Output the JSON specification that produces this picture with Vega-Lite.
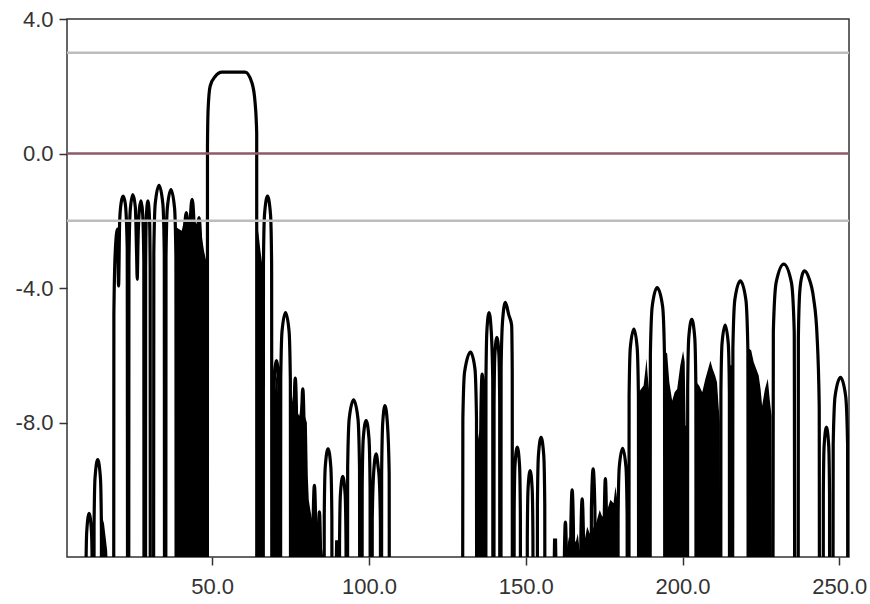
{
  "$schema": "https://vega.github.io/schema/vega-lite/v6.json",
  "width": 782,
  "height": 538,
  "autosize": {"type": "none"},
  "padding": {"left": 67, "top": 19, "right": 21, "bottom": 47},
  "background": "white",
  "config": {
    "view": {"stroke": "#333333", "strokeWidth": 1.5},
    "axis": {
      "labelFont": "Liberation Sans",
      "labelFontSize": 22,
      "labelColor": "#333333",
      "tickColor": "#333333",
      "tickSize": 8,
      "tickWidth": 1.5,
      "domain": false,
      "grid": false,
      "labelFlush": false,
      "labelOverlap": false
    },
    "axisX": {"labelPadding": 11},
    "axisY": {"labelPadding": 6}
  },
  "datasets": {
    "curve": [
      {"x":9.6,"y":-30},{"x":9.72,"y":-12.7},{"x":9.99,"y":-11.25},{"x":10.75,"y":-10.7},{"x":11.51,"y":-11.25},{"x":11.78,"y":-12.7},{"x":11.9,"y":-30},
      {"x":12.2,"y":-30},{"x":12.33,"y":-11.1},{"x":12.64,"y":-9.65},{"x":13.5,"y":-9.1},{"x":14.36,"y":-9.65},{"x":14.67,"y":-11.1},{"x":14.8,"y":-30},
      {"x":18.5,"y":-30},{"x":18.65,"y":-4.8},{"x":19.1,"y":-2.9},{"x":19.8,"y":-2.25},{"x":20.15,"y":-3.94},{"x":20.5,"y":-2.0},{"x":21.0,"y":-1.45},{"x":21.6,"y":-1.27},{"x":22.3,"y":-1.5},{"x":22.9,"y":-2.8},{"x":23.15,"y":-30},
      {"x":23.3,"y":-30},{"x":23.45,"y":-3.2},{"x":23.9,"y":-1.65},{"x":24.7,"y":-1.22},{"x":25.5,"y":-1.6},{"x":25.9,"y":-3.0},{"x":26.1,"y":-3.74},{"x":26.35,"y":-2.6},{"x":26.8,"y":-1.65},{"x":27.3,"y":-1.41},{"x":27.8,"y":-1.75},{"x":28.2,"y":-3.2},{"x":28.35,"y":-30},
      {"x":28.7,"y":-30},{"x":28.78,"y":-3.41},{"x":28.97,"y":-1.96},{"x":29.5,"y":-1.41},{"x":30.03,"y":-1.96},{"x":30.22,"y":-3.41},{"x":30.3,"y":-30},
      {"x":31.2,"y":-30},{"x":31.39,"y":-2.95},{"x":31.83,"y":-1.5},{"x":33.05,"y":-0.95},{"x":34.27,"y":-1.5},{"x":34.72,"y":-2.95},{"x":34.9,"y":-30},
      {"x":35.1,"y":-30},{"x":35.28,"y":-3.07},{"x":35.7,"y":-1.62},{"x":36.85,"y":-1.07},{"x":38.0,"y":-1.62},{"x":38.43,"y":-3.07},{"x":38.6,"y":-30},
      {"x":40.9,"y":-30},{"x":40.99,"y":-3.76},{"x":41.19,"y":-2.31},{"x":41.75,"y":-1.76},{"x":42.31,"y":-2.31},{"x":42.52,"y":-3.76},{"x":42.6,"y":-30},
      {"x":42.8,"y":-30},{"x":42.88,"y":-3.36},{"x":43.07,"y":-1.91},{"x":43.6,"y":-1.36},{"x":44.13,"y":-1.91},{"x":44.32,"y":-3.36},{"x":44.4,"y":-30},
      {"x":45.1,"y":-30},{"x":45.17,"y":-3.91},{"x":45.34,"y":-2.46},{"x":45.8,"y":-1.91},{"x":46.26,"y":-2.46},{"x":46.43,"y":-3.91},{"x":46.5,"y":-30},
      {"x":48.45,"y":-30},{"x":48.5,"y":0.2},{"x":48.7,"y":1.3},{"x":49.35,"y":2.0},{"x":50.96,"y":2.29},{"x":53.1,"y":2.42},{"x":60.5,"y":2.42},{"x":62.7,"y":2.1},{"x":63.7,"y":1.5},{"x":64.2,"y":0.6},{"x":64.25,"y":-30},
      {"x":66.2,"y":-30},{"x":66.35,"y":-3.27},{"x":66.69,"y":-1.82},{"x":67.65,"y":-1.27},{"x":68.61,"y":-1.82},{"x":68.96,"y":-3.27},{"x":69.1,"y":-30},
      {"x":69.5,"y":-30},{"x":69.6,"y":-8.16},{"x":69.84,"y":-6.71},{"x":70.5,"y":-6.16},{"x":71.16,"y":-6.71},{"x":71.4,"y":-8.16},{"x":71.5,"y":-30},
      {"x":71.7,"y":-30},{"x":71.87,"y":-6.73},{"x":72.28,"y":-5.28},{"x":73.4,"y":-4.73},{"x":74.52,"y":-5.28},{"x":74.93,"y":-6.73},{"x":75.1,"y":-30},
      {"x":75.9,"y":-30},{"x":76.08,"y":-7.88},{"x":76.5,"y":-6.68},{"x":76.92,"y":-7.88},{"x":77.1,"y":-30},
      {"x":78.3,"y":-30},{"x":78.48,"y":-8.2},{"x":78.9,"y":-7.0},{"x":79.32,"y":-8.2},{"x":79.5,"y":-30},
      {"x":82.0,"y":-30},{"x":82.18,"y":-11.07},{"x":82.6,"y":-9.87},{"x":83.02,"y":-11.07},{"x":83.2,"y":-30},
      {"x":83.7,"y":-30},{"x":83.85,"y":-11.86},{"x":84.2,"y":-10.66},{"x":84.55,"y":-11.86},{"x":84.7,"y":-30},
      {"x":85.6,"y":-30},{"x":85.74,"y":-10.78},{"x":86.06,"y":-9.33},{"x":86.95,"y":-8.78},{"x":87.84,"y":-9.33},{"x":88.17,"y":-10.78},{"x":88.3,"y":-30},
      {"x":90.5,"y":-30},{"x":90.62,"y":-11.6},{"x":90.89,"y":-10.15},{"x":91.65,"y":-9.6},{"x":92.41,"y":-10.15},{"x":92.69,"y":-11.6},{"x":92.8,"y":-30},
      {"x":93.0,"y":-30},{"x":93.21,"y":-9.33},{"x":93.71,"y":-7.88},{"x":95.1,"y":-7.33},{"x":96.49,"y":-7.88},{"x":96.99,"y":-9.33},{"x":97.2,"y":-30},
      {"x":97.7,"y":-30},{"x":97.84,"y":-9.94},{"x":98.18,"y":-8.49},{"x":99.1,"y":-7.94},{"x":100.02,"y":-8.49},{"x":100.36,"y":-9.94},{"x":100.5,"y":-30},
      {"x":100.9,"y":-30},{"x":101.05,"y":-10.9},{"x":101.5,"y":-9.5},{"x":102.3,"y":-8.93},{"x":102.9,"y":-9.3},{"x":103.3,"y":-9.7},{"x":103.65,"y":-11},{"x":103.8,"y":-30},
      {"x":103.95,"y":-30},{"x":104.05,"y":-9.5},{"x":104.4,"y":-8.0},{"x":105.1,"y":-7.5},{"x":105.9,"y":-8.05},{"x":106.45,"y":-9.5},{"x":106.6,"y":-30},
      {"x":129.7,"y":-30},{"x":129.95,"y":-7.9},{"x":130.5,"y":-6.5},{"x":132.4,"y":-5.91},{"x":133.8,"y":-6.4},{"x":134.3,"y":-7.9},{"x":134.45,"y":-30},
      {"x":135.5,"y":-30},{"x":135.7,"y":-7.76},{"x":136.1,"y":-6.56},{"x":136.6,"y":-7.76},{"x":136.8,"y":-30},
      {"x":137.2,"y":-30},{"x":137.32,"y":-6.73},{"x":137.61,"y":-5.28},{"x":138.3,"y":-4.73},{"x":139.0,"y":-5.28},{"x":139.48,"y":-6.73},{"x":139.6,"y":-30},
      {"x":139.8,"y":-30},{"x":139.9,"y":-7.47},{"x":140.14,"y":-6.02},{"x":140.8,"y":-5.47},{"x":141.46,"y":-6.02},{"x":141.7,"y":-7.47},{"x":141.8,"y":-30},
      {"x":142.0,"y":-30},{"x":142.15,"y":-6.4},{"x":142.6,"y":-5.0},{"x":143.5,"y":-4.43},{"x":144.6,"y":-4.8},{"x":145.5,"y":-5.1},{"x":145.7,"y":-6.5},{"x":145.8,"y":-30},
      {"x":146.2,"y":-30},{"x":146.31,"y":-10.73},{"x":146.57,"y":-9.28},{"x":147.3,"y":-8.73},{"x":148.03,"y":-9.28},{"x":148.29,"y":-10.73},{"x":148.4,"y":-30},
      {"x":150.4,"y":-30},{"x":150.5,"y":-11.43},{"x":150.74,"y":-9.98},{"x":151.4,"y":-9.43},{"x":152.06,"y":-9.98},{"x":152.3,"y":-11.43},{"x":152.4,"y":-30},
      {"x":153.6,"y":-30},{"x":153.73,"y":-10.44},{"x":154.04,"y":-8.99},{"x":154.9,"y":-8.44},{"x":155.76,"y":-8.99},{"x":156.07,"y":-10.44},{"x":156.2,"y":-30},
      {"x":162.2,"y":-30},{"x":162.33,"y":-12.0},{"x":162.65,"y":-10.96},{"x":162.97,"y":-12.0},{"x":163.1,"y":-30},
      {"x":164.2,"y":-30},{"x":164.38,"y":-11.2},{"x":164.8,"y":-10.0},{"x":165.22,"y":-11.2},{"x":165.4,"y":-30},
      {"x":167.4,"y":-30},{"x":167.58,"y":-11.47},{"x":168.0,"y":-10.27},{"x":168.42,"y":-11.47},{"x":168.6,"y":-30},
      {"x":170.7,"y":-30},{"x":170.94,"y":-10.58},{"x":171.5,"y":-9.38},{"x":172.06,"y":-10.58},{"x":172.3,"y":-30},
      {"x":174.9,"y":-30},{"x":175.05,"y":-10.87},{"x":175.4,"y":-9.67},{"x":175.75,"y":-10.87},{"x":175.9,"y":-30},
      {"x":179.3,"y":-30},{"x":179.46,"y":-10.77},{"x":179.84,"y":-9.32},{"x":180.9,"y":-8.77},{"x":181.96,"y":-9.32},{"x":182.34,"y":-10.77},{"x":182.5,"y":-30},
      {"x":182.8,"y":-30},{"x":182.97,"y":-7.22},{"x":183.36,"y":-5.77},{"x":184.5,"y":-5.22},{"x":185.54,"y":-5.77},{"x":185.94,"y":-7.22},{"x":186.1,"y":-30},
      {"x":189.5,"y":-30},{"x":189.75,"y":-5.99},{"x":190.35,"y":-4.54},{"x":191.9,"y":-3.99},{"x":193.65,"y":-4.54},{"x":194.25,"y":-5.99},{"x":194.5,"y":-30},
      {"x":201.5,"y":-30},{"x":201.65,"y":-6.93},{"x":201.99,"y":-5.48},{"x":202.95,"y":-4.93},{"x":203.91,"y":-5.48},{"x":204.26,"y":-6.93},{"x":204.4,"y":-30},
      {"x":212.1,"y":-30},{"x":212.25,"y":-7.1},{"x":212.61,"y":-5.65},{"x":213.6,"y":-5.1},{"x":214.59,"y":-5.65},{"x":214.95,"y":-7.1},{"x":215.1,"y":-30},
      {"x":215.8,"y":-30},{"x":216.07,"y":-5.79},{"x":216.7,"y":-4.34},{"x":218.45,"y":-3.79},{"x":220.2,"y":-4.34},{"x":220.84,"y":-5.79},{"x":221.1,"y":-30},
      {"x":228.6,"y":-30},{"x":228.97,"y":-5.29},{"x":229.86,"y":-3.84},{"x":232.3,"y":-3.29},{"x":234.74,"y":-3.84},{"x":235.63,"y":-5.29},{"x":236.0,"y":-30},
      {"x":236.8,"y":-30},{"x":236.95,"y":-5.5},{"x":237.4,"y":-4.1},{"x":238.2,"y":-3.6},{"x":238.9,"y":-3.49},{"x":240.3,"y":-3.7},{"x":241.8,"y":-4.3},{"x":242.9,"y":-5.4},{"x":243.6,"y":-7.5},{"x":243.8,"y":-30},
      {"x":244.8,"y":-30},{"x":244.91,"y":-10.14},{"x":245.17,"y":-8.69},{"x":245.9,"y":-8.14},{"x":246.63,"y":-8.69},{"x":246.89,"y":-10.14},{"x":247.0,"y":-30},
      {"x":247.8,"y":-30},{"x":248.06,"y":-8.66},{"x":248.67,"y":-7.21},{"x":250.4,"y":-6.66},{"x":252.03,"y":-7.21},{"x":252.65,"y":-8.66},{"x":252.9,"y":-30}
    ],
    "fill": [
      {"x":14.8,"y":-12},{"x":14.9,"y":-10.8},{"x":15.5,"y":-11.0},{"x":16.0,"y":-11.4},{"x":16.5,"y":-11.8},{"x":16.6,"y":-12},
      {"x":38.6,"y":-12},{"x":38.65,"y":-2.2},{"x":39.5,"y":-2.25},{"x":40.3,"y":-2.3},{"x":41.0,"y":-2.0},{"x":41.8,"y":-1.9},{"x":42.7,"y":-2.2},{"x":43.6,"y":-1.6},{"x":44.4,"y":-2.0},{"x":45.0,"y":-2.1},{"x":45.8,"y":-1.95},{"x":46.6,"y":-2.4},{"x":47.4,"y":-2.9},{"x":48.0,"y":-3.15},{"x":48.3,"y":-3.2},{"x":48.35,"y":-12},
      {"x":64.25,"y":-12},{"x":64.3,"y":-2.1},{"x":64.8,"y":-2.4},{"x":65.4,"y":-2.9},{"x":65.9,"y":-3.25},{"x":66.2,"y":-3.3},{"x":66.25,"y":-12},
      {"x":69.6,"y":-12},{"x":69.7,"y":-7.5},{"x":70.5,"y":-6.5},{"x":71.3,"y":-7.5},{"x":71.4,"y":-12},
      {"x":75.1,"y":-12},{"x":75.15,"y":-7.6},{"x":75.8,"y":-7.2},{"x":76.5,"y":-6.7},{"x":77.1,"y":-7.7},{"x":77.8,"y":-7.8},{"x":78.4,"y":-7.4},{"x":78.9,"y":-7.0},{"x":79.5,"y":-7.8},{"x":80.2,"y":-8.0},{"x":80.5,"y":-9.6},{"x":80.8,"y":-10.3},{"x":81.3,"y":-10.6},{"x":81.9,"y":-10.9},{"x":82.6,"y":-10.0},{"x":83.3,"y":-11.0},{"x":83.8,"y":-11.2},{"x":84.2,"y":-10.8},{"x":84.8,"y":-11.6},{"x":85.4,"y":-12},
      {"x":89.1,"y":-12},{"x":89.2,"y":-11.5},{"x":90.2,"y":-11.5},{"x":90.3,"y":-12},
      {"x":134.4,"y":-12},{"x":134.45,"y":-8.7},{"x":135.3,"y":-8.2},{"x":135.7,"y":-7.0},{"x":136.1,"y":-6.6},{"x":136.6,"y":-7.5},{"x":137.0,"y":-9.0},{"x":137.05,"y":-12},
      {"x":158.6,"y":-12},{"x":158.7,"y":-11.45},{"x":160.0,"y":-11.45},{"x":160.1,"y":-12},
      {"x":162.0,"y":-12},{"x":162.2,"y":-11.6},{"x":163.2,"y":-11.7},{"x":163.8,"y":-11.4},{"x":165.5,"y":-11.6},{"x":166.1,"y":-11.5},{"x":166.6,"y":-11.3},{"x":167.2,"y":-11.8},{"x":168.8,"y":-11.5},{"x":169.6,"y":-11.1},{"x":170.4,"y":-11.3},{"x":172.4,"y":-11.0},{"x":173.0,"y":-10.8},{"x":173.6,"y":-10.6},{"x":174.4,"y":-10.8},{"x":176.0,"y":-10.6},{"x":177.0,"y":-10.3},{"x":178.0,"y":-10.4},{"x":178.6,"y":-9.9},{"x":179.2,"y":-10.3},{"x":179.3,"y":-12},
      {"x":186.0,"y":-12},{"x":186.05,"y":-7.1},{"x":186.8,"y":-7.0},{"x":187.6,"y":-6.9},{"x":188.2,"y":-6.4},{"x":188.5,"y":-6.1},{"x":188.9,"y":-6.6},{"x":189.3,"y":-7.0},{"x":189.5,"y":-7.1},{"x":189.55,"y":-12},
      {"x":194.5,"y":-12},{"x":194.55,"y":-5.9},{"x":195.1,"y":-5.95},{"x":195.8,"y":-6.8},{"x":196.7,"y":-7.35},{"x":197.5,"y":-7.1},{"x":198.3,"y":-7.0},{"x":199.3,"y":-6.3},{"x":200.2,"y":-5.87},{"x":200.7,"y":-6.2},{"x":201.0,"y":-8.1},{"x":201.4,"y":-8.1},{"x":201.45,"y":-12},
      {"x":204.4,"y":-12},{"x":204.45,"y":-6.8},{"x":205.3,"y":-6.9},{"x":206.3,"y":-7.1},{"x":207.3,"y":-6.7},{"x":208.2,"y":-6.4},{"x":208.9,"y":-6.16},{"x":209.6,"y":-6.4},{"x":210.4,"y":-6.6},{"x":211.0,"y":-6.8},{"x":211.5,"y":-7.5},{"x":211.9,"y":-8.0},{"x":212.0,"y":-12},
      {"x":215.1,"y":-12},{"x":215.15,"y":-6.3},{"x":215.9,"y":-6.3},{"x":215.95,"y":-12},
      {"x":221.1,"y":-12},{"x":221.15,"y":-5.8},{"x":221.9,"y":-5.85},{"x":222.7,"y":-6.2},{"x":223.5,"y":-6.4},{"x":224.3,"y":-6.6},{"x":224.9,"y":-7.0},{"x":225.4,"y":-7.5},{"x":226.3,"y":-7.0},{"x":227.2,"y":-6.7},{"x":227.8,"y":-7.3},{"x":228.4,"y":-7.8},{"x":228.5,"y":-12}
    ],
    "refs": [
      {"y": 3, "kind": "limit"},
      {"y": 0, "kind": "zero"},
      {"y": -2, "kind": "limit"}
    ]
  },
  "layer": [
    {
      "data": {"name": "fill"},
      "mark": {"type": "area", "color": "#000000", "clip": true, "interpolate": "linear"},
      "encoding": {
        "x": {"field": "x", "type": "quantitative", "title": null,
              "scale": {"domain": [3.7, 253.1], "nice": false, "zero": false},
              "axis": {"values": [50, 100, 150, 200, 250], "format": ".1f"}},
        "y": {"field": "y", "type": "quantitative", "title": null,
              "scale": {"domain": [-12, 4], "nice": false, "zero": false},
              "axis": {"values": [-8, -4, 0, 4], "labelExpr": "replace(format(datum.value, '.1f'), '\u2212', '-')"}},
        "y2": {"datum": -12}
      }
    },
    {
      "data": {"name": "curve"},
      "mark": {"type": "line", "color": "#000000", "strokeWidth": 3.2, "clip": true, "interpolate": "monotone"},
      "encoding": {
        "x": {"field": "x", "type": "quantitative", "title": null},
        "y": {"field": "y", "type": "quantitative", "title": null}
      }
    },
    {
      "data": {"name": "refs"},
      "mark": {"type": "rule", "strokeWidth": 2.5},
      "encoding": {
        "y": {"field": "y", "type": "quantitative", "title": null},
        "color": {"field": "kind", "type": "nominal", "legend": null,
                  "scale": {"domain": ["limit", "zero"], "range": ["#bdbdbd", "#8e5a66"]}}
      }
    }
  ]
}
